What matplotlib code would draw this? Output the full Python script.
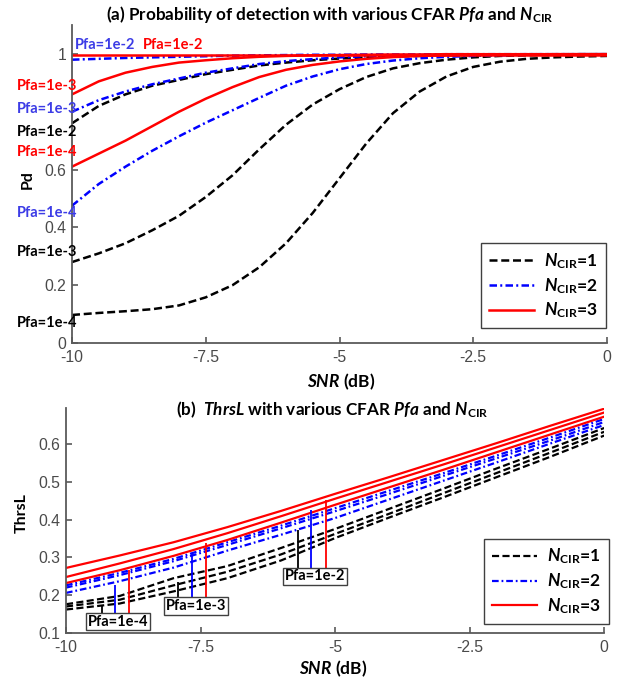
import numpy as np
import matplotlib
matplotlib.use('Agg')
import matplotlib.pyplot as plt
from matplotlib import font_manager as fm


def pick_bold_italic(families):
    # first family that really ships a bold italic face
    for fam in families:
        try:
            path = fm.findfont(fm.FontProperties(family=fam, style='italic', weight='bold'),
                               fallback_to_default=False)
        except Exception:
            continue
        low = path.lower()
        if fam.replace(' ', '').lower() in low.replace(' ', '') and ('italic' in low or 'oblique' in low):
            return fam
    return 'DejaVu Sans'


it_family = pick_bold_italic(['Lato', 'Open Sans', 'Noto Sans', 'Liberation Sans'])

plt.rcParams['font.family'] = ['Lato', 'DejaVu Sans']
plt.rcParams['mathtext.fontset'] = 'custom'
plt.rcParams['mathtext.rm'] = 'Lato'
plt.rcParams['mathtext.it'] = it_family + ':italic'
plt.rcParams['mathtext.bf'] = 'Lato:bold'
plt.rcParams['mathtext.bfit'] = it_family + ':italic:bold'

# ---- (a) probability of detection ----
snr_a = [-10, -9.5, -9, -8.5, -8, -7.5, -7, -6.5, -6, -5.5, -5,
         -4.5, -4, -3.5, -3, -2.5, -2, -1.5, -1, -0.5, 0]

pd_n1_1e2 = [0.76, 0.82, 0.86, 0.89, 0.91, 0.93, 0.945, 0.96, 0.97, 0.978, 0.984,
             0.988, 0.991, 0.993, 0.995, 0.996, 0.997, 0.998, 0.998, 0.999, 0.999]
pd_n1_1e3 = [0.28, 0.31, 0.345, 0.39, 0.44, 0.505, 0.58, 0.67, 0.755, 0.825, 0.878,
             0.92, 0.95, 0.968, 0.98, 0.988, 0.993, 0.995, 0.997, 0.998, 0.998]
pd_n1_1e4 = [0.097, 0.104, 0.11, 0.117, 0.13, 0.158, 0.20, 0.262, 0.345, 0.45, 0.57,
             0.69, 0.795, 0.87, 0.922, 0.955, 0.973, 0.983, 0.988, 0.991, 0.993]

pd_n2_1e2 = [0.980, 0.983, 0.986, 0.988, 0.990, 0.992, 0.994, 0.995, 0.996, 0.997, 0.997,
             0.998, 0.998, 0.998, 0.999, 0.999, 0.999, 0.999, 0.999, 0.999, 0.999]
pd_n2_1e3 = [0.80, 0.84, 0.87, 0.895, 0.915, 0.935, 0.95, 0.965, 0.975, 0.982, 0.988,
             0.992, 0.995, 0.996, 0.997, 0.998, 0.998, 0.999, 0.999, 0.999, 0.999]
pd_n2_1e4 = [0.475, 0.55, 0.61, 0.665, 0.715, 0.762, 0.805, 0.848, 0.89, 0.922, 0.947,
             0.965, 0.977, 0.985, 0.99, 0.993, 0.995, 0.997, 0.998, 0.999, 0.999]

pd_n3_1e2 = [0.997] * 21
pd_n3_1e3 = [0.86, 0.905, 0.935, 0.955, 0.97, 0.978, 0.985, 0.99, 0.993, 0.995, 0.996,
             0.997, 0.998, 0.998, 0.999, 0.999, 0.999, 0.999, 0.999, 0.999, 0.999]
pd_n3_1e4 = [0.61, 0.655, 0.70, 0.75, 0.80, 0.845, 0.885, 0.92, 0.945, 0.962, 0.974,
             0.983, 0.989, 0.993, 0.995, 0.997, 0.998, 0.998, 0.999, 0.999, 0.999]

# curve labels on the left: (text, colour, x, y, alignment)
pd_labels = [
    ('Pfa=1e-2', '#3c3ce6', -9.94, 1.031, 'left'),
    ('Pfa=1e-2', 'red', -8.67, 1.031, 'left'),
    ('Pfa=1e-3', 'red', -9.90, 0.890, 'right'),
    ('Pfa=1e-3', '#3c3ce6', -9.90, 0.810, 'right'),
    ('Pfa=1e-2', 'black', -9.90, 0.731, 'right'),
    ('Pfa=1e-4', 'red', -9.90, 0.659, 'right'),
    ('Pfa=1e-4', '#3c3ce6', -9.90, 0.448, 'right'),
    ('Pfa=1e-3', 'black', -9.90, 0.314, 'right'),
    ('Pfa=1e-4', 'black', -9.90, 0.068, 'right'),
]

# ---- (b) threshold ----
snr_b = [-10, -9, -8, -7, -6, -5, -4, -3, -2, -1, 0]

thr_n1_1e4 = [0.176, 0.198, 0.245, 0.277, 0.325, 0.375, 0.428, 0.481, 0.535, 0.588, 0.642]
thr_n1_1e3 = [0.170, 0.188, 0.226, 0.262, 0.308, 0.362, 0.415, 0.469, 0.523, 0.577, 0.632]
thr_n1_1e2 = [0.162, 0.178, 0.210, 0.245, 0.292, 0.351, 0.405, 0.458, 0.512, 0.566, 0.622]

thr_n2_1e4 = [0.226, 0.259, 0.296, 0.340, 0.384, 0.430, 0.476, 0.522, 0.569, 0.617, 0.666]
thr_n2_1e3 = [0.220, 0.253, 0.290, 0.333, 0.377, 0.422, 0.468, 0.515, 0.562, 0.609, 0.658]
thr_n2_1e2 = [0.206, 0.237, 0.273, 0.318, 0.360, 0.404, 0.453, 0.502, 0.551, 0.601, 0.650]

thr_n3_1e4 = [0.272, 0.305, 0.340, 0.380, 0.423, 0.468, 0.512, 0.557, 0.602, 0.648, 0.693]
thr_n3_1e3 = [0.248, 0.284, 0.322, 0.364, 0.409, 0.455, 0.500, 0.545, 0.591, 0.637, 0.683]
thr_n3_1e2 = [0.232, 0.266, 0.304, 0.346, 0.392, 0.439, 0.485, 0.531, 0.578, 0.625, 0.672]

# pointer groups: label, box centre, pointer bottom, pointer x / top for N=1,2,3
pfa_groups = ['Pfa=1e-4', 'Pfa=1e-3', 'Pfa=1e-2']
box_x = [-9.03, -7.58, -5.37]
box_y = [0.130, 0.171, 0.250]
ptr_bottom = [0.148, 0.192, 0.272]
ptr_x = [[-9.33, -9.09, -8.83], [-7.91, -7.65, -7.40], [-5.68, -5.45, -5.17]]
ptr_top = [[0.171, 0.227, 0.267], [0.236, 0.311, 0.339], [0.372, 0.424, 0.452]]

ncir_colors = ['black', 'blue', 'red']
ncir_names = [r'$\mathbfit{N}_{\mathbf{CIR}}$=1',
              r'$\mathbfit{N}_{\mathbf{CIR}}$=2',
              r'$\mathbfit{N}_{\mathbf{CIR}}$=3']
dash_black = (3.2, 1.5)
dash_blue = (3.0, 1.3, 0.8, 1.3)
spine_col = '#5a5a5a'
tick_col = '#4a4a4a'


def style_axes(ax):
    for s in ['top', 'right']:
        ax.spines[s].set_visible(False)
    for s in ['left', 'bottom']:
        ax.spines[s].set_color(spine_col)
        ax.spines[s].set_linewidth(1.3)
    ax.tick_params(direction='in', length=4, width=1.2, color=spine_col,
                   labelcolor=tick_col, labelsize=11.3)
    ax.tick_params(axis='x', pad=5)
    ax.tick_params(axis='y', pad=4)
    for t in ax.get_xticklabels() + ax.get_yticklabels():
        t.set_fontfamily('Liberation Sans')


def draw_set(ax, x, curves, lw):
    lines = []
    for curve_list, col in zip(curves, ncir_colors):
        for y in curve_list:
            if col == 'black':
                l, = ax.plot(x, y, color=col, lw=lw, dashes=dash_black)
            elif col == 'blue':
                l, = ax.plot(x, y, color=col, lw=lw, dashes=dash_blue)
            else:
                l, = ax.plot(x, y, color=col, lw=lw)
        lines.append(l)
    return lines


def add_legend(ax, handles, anchor):
    leg = ax.legend(handles, ncir_names, loc='upper right', bbox_to_anchor=anchor,
                    borderaxespad=0, fancybox=False, framealpha=1, edgecolor='#404040',
                    prop={'weight': 'bold', 'size': 12.5}, handlelength=2.6,
                    handletextpad=0.6, labelspacing=0.3, borderpad=0.45)
    leg.get_frame().set_linewidth(1.0)
    return leg


fig = plt.figure(figsize=(6.25, 6.81), dpi=100)

# top panel
ax1 = fig.add_axes([0.1152, 0.4963, 0.856, 0.467])
h1 = draw_set(ax1, snr_a,
              [[pd_n1_1e2, pd_n1_1e3, pd_n1_1e4],
               [pd_n2_1e2, pd_n2_1e3, pd_n2_1e4],
               [pd_n3_1e2, pd_n3_1e3, pd_n3_1e4]], 1.8)
ax1.set_xlim(-10, 0)
ax1.set_ylim(0, 1.1)
ax1.set_xticks([-10, -7.5, -5, -2.5, 0])
ax1.set_xticklabels(['-10', '-7.5', '-5', '-2.5', '0'])
ax1.set_yticks([0, 0.2, 0.4, 0.6, 1])
ax1.set_yticklabels(['0', '0.2', '0.4', '0.6', '1'])
style_axes(ax1)
for txt, col, x, y, ha in pd_labels:
    ax1.text(x, y, txt, color=col, ha=ha, va='center', fontsize=10.5,
             fontweight='bold', clip_on=False)
add_legend(ax1, h1, (0.998, 0.314))

# bottom panel
ax2 = fig.add_axes([0.1056, 0.0705, 0.861, 0.3304])
h2 = draw_set(ax2, snr_b,
              [[thr_n1_1e2, thr_n1_1e3, thr_n1_1e4],
               [thr_n2_1e2, thr_n2_1e3, thr_n2_1e4],
               [thr_n3_1e2, thr_n3_1e3, thr_n3_1e4]], 1.6)
ax2.set_xlim(-10, 0)
ax2.set_ylim(0.1, 0.695)
ax2.set_xticks([-10, -7.5, -5, -2.5, 0])
ax2.set_xticklabels(['-10', '-7.5', '-5', '-2.5', '0'])
ax2.set_yticks([0.1, 0.2, 0.3, 0.4, 0.5, 0.6])
ax2.set_yticklabels(['0.1', '0.2', '0.3', '0.4', '0.5', '0.6'])
style_axes(ax2)
for i, name in enumerate(pfa_groups):
    for j, col in enumerate(ncir_colors):
        ax2.plot([ptr_x[i][j], ptr_x[i][j]], [ptr_bottom[i], ptr_top[i][j]],
                 color=col, lw=1.3, solid_capstyle='butt')
    ax2.text(box_x[i], box_y[i], name, ha='center', va='center', fontsize=10.5,
             fontweight='bold', color='black',
             bbox=dict(boxstyle='square,pad=0.12', fc='white', ec='#404040', lw=1.0))
add_legend(ax2, h2, (1.009, 0.418))

# titles and axis names
fig.text(0.527, 0.979, r'(a) Probability of detection with various CFAR $\mathbfit{Pfa}$ and $\mathbfit{N}_{\mathbf{CIR}}$',
         ha='center', va='center', fontsize=12.3, fontweight='bold')
fig.text(0.531, 0.398, r'(b)  $\mathbfit{ThrsL}$ with various CFAR $\mathbfit{Pfa}$ and $\mathbfit{N}_{\mathbf{CIR}}$',
         ha='center', va='center', fontsize=12.3, fontweight='bold')
fig.text(0.546, 0.440, r'$\mathbfit{SNR}$ (dB)', ha='center', va='center',
         fontsize=12.5, fontweight='bold')
fig.text(0.533, 0.0176, r'$\mathbfit{SNR}$ (dB)', ha='center', va='center',
         fontsize=12.5, fontweight='bold')
fig.text(28 / 625, 1 - 180 / 681, 'Pd', rotation=90, ha='center', va='center',
         fontsize=11.5, fontweight='bold')
fig.text(22 / 625, 1 - 513 / 681, 'ThrsL', rotation=90, ha='center', va='center',
         fontsize=11.5, fontweight='bold')

fig.savefig('out.png', dpi=100, facecolor='white')
